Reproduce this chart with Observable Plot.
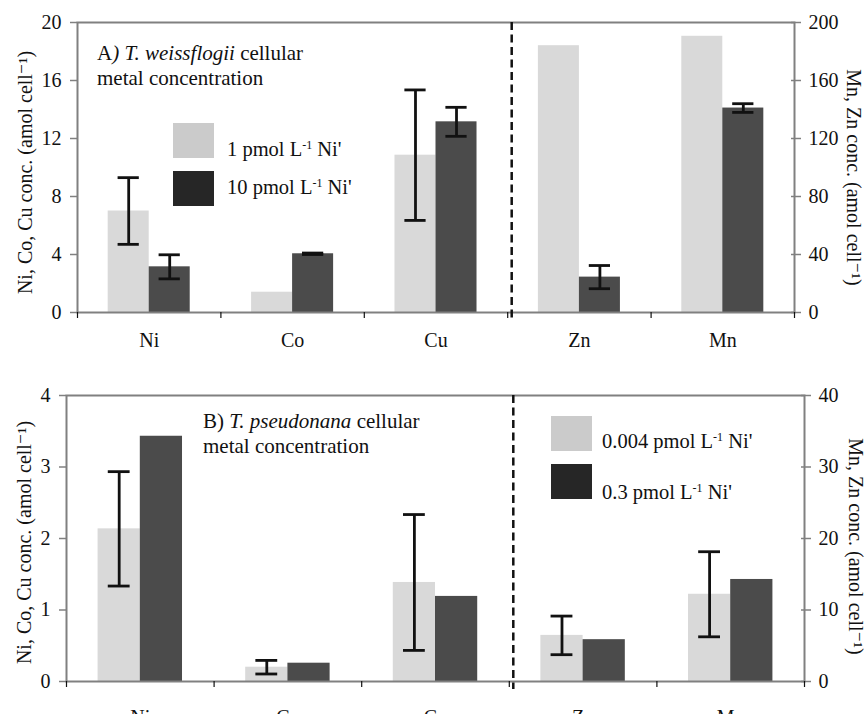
<!DOCTYPE html>
<html><head><meta charset="utf-8">
<script src="https://cdn.jsdelivr.net/npm/d3@7"></script>
<script src="https://cdn.jsdelivr.net/npm/@observablehq/plot@0.6"></script>
<style>
html,body{margin:0;padding:0;overflow:hidden;background:#fff;}
#wrap{position:relative;width:867px;height:714px;font-family:"Liberation Serif","Tinos","Times New Roman","Times","DejaVu Serif","Noto Serif",serif;color:#111;}
.panel{position:absolute;left:0;}
.note{position:absolute;font-size:21px;line-height:25px;white-space:nowrap;}
.legtxt{position:absolute;font-size:20.5px;line-height:20px;white-space:nowrap;}
.legtxt sup{font-size:12px;vertical-align:7px;line-height:0;}
.sw{position:absolute;width:41px;height:35px;}
</style></head><body><div id="wrap"></div>
<script>
// ---------- data ----------
const categories = ["Ni", "Co", "Cu", "Zn", "Mn"];
const rightGroup = ["Zn", "Mn"];          // read against the right-hand axis
const rightFactor = 10;                   // right axis = 10 x left axis
const series = ["low", "high"];

// Panel A: T. weissflogii
const aLow     = [7.0, 1.4, 10.85, 184, 190.5];
const aLowErr  = [2.3, null, 4.5, null, null];
const aHigh    = [3.15, 4.05, 13.15, 24.4, 141];
const aHighErr = [0.83, 0.05, 1.0, 8, 3];
const aLeftTicks  = [0, 4, 8, 12, 16, 20];
const aRightTicks = [0, 40, 80, 120, 160, 200];
const aLegend = ["1 pmol L<sup>-1</sup> Ni'", "10 pmol L<sup>-1</sup> Ni'"];
const aNote = ["A<i>) T. weissflogii</i> cellular", "metal concentration"];

// Panel B: T. pseudonana
const bLow     = [2.135, 0.20, 1.385, 6.45, 12.2];
const bLowErr  = [0.8, 0.095, 0.95, 2.7, 5.95];
const bHigh    = [3.43, 0.256, 1.19, 5.85, 14.27];
const bHighErr = [null, null, null, null, null];
const bLeftTicks  = [0, 1, 2, 3, 4];
const bRightTicks = [0, 10, 20, 30, 40];
const bLegend = ["0.004 pmol L<sup>-1</sup> Ni'", "0.3 pmol L<sup>-1</sup> Ni'"];
const bNote = ["B) <i>T. pseudonana</i> cellular", "metal concentration"];

const leftTitle = "Ni, Co, Cu conc. (amol cell\u207B\u00B9)";
const rightTitle = "Mn, Zn conc. (amol cell\u207B\u00B9)";

// ---------- styles ----------
const fontStack = "'Liberation Serif','Tinos','Times New Roman','Times','DejaVu Serif','Noto Serif',serif";
const barColors = ["#d9d9d9", "#4b4b4b"];
const legColors = ["#cbcbcb", "#262626"];
const grey = "#808080";
const ink = "#111";
const barW = 0.286;   // bar width as a fraction of a category slot
const capW = 0.074;   // half error-bar cap width (category units)

function buildRows(low, lowErr, high, highErr) {
  const out = [];
  categories.forEach((cat, i) => {
    const f = rightGroup.includes(cat) ? rightFactor : 1;
    [[low, lowErr], [high, highErr]].forEach(([v, e], k) => {
      out.push({cat, i, k, series: series[k], value: v[i] / f,
        err: e[i] == null ? null : e[i] / f,
        xc: i + 0.5 + (k === 0 ? -barW / 2 : barW / 2)});
    });
  });
  return out;
}

function panel(cfg) {
  const rows = buildRows(cfg.low, cfg.lowErr, cfg.high, cfg.highErr);
  const errs = rows.filter(d => d.err != null);
  const yMax = cfg.leftTicks[cfg.leftTicks.length - 1];
  const fs = 20;
  return Plot.plot({
    width: 867, height: cfg.height,
    marginTop: cfg.mt, marginBottom: cfg.mb, marginLeft: cfg.ml, marginRight: cfg.mr,
    style: {fontFamily: fontStack, fontSize: "20px", color: ink, background: "transparent", overflow: "visible"},
    x: {domain: [0, categories.length], label: null},
    y: {domain: [0, yMax], label: null},
    color: {domain: series, range: barColors},
    marks: [
      Plot.rectY(rows, {
        x1: d => d.i + 0.5 - (d.k === 0 ? barW : 0),
        x2: d => d.i + 0.5 + (d.k === 1 ? barW : 0),
        y1: 0, y2: "value", fill: "series"
      }),
      Plot.frame({stroke: grey, strokeWidth: 2}),
      // dashed separator between left-axis and right-axis metals
      Plot.ruleX([categories.length - rightGroup.length], {dx: 4, stroke: ink, strokeWidth: 2.5, strokeDasharray: "8,4.5", insetBottom: -8}),
      // error bars
      Plot.ruleX(errs, {x: "xc", y1: d => d.value - d.err, y2: d => d.value + d.err, stroke: ink, strokeWidth: 2.8}),
      Plot.ruleY(errs, {y: d => d.value - d.err, x1: d => d.xc - capW, x2: d => d.xc + capW, stroke: ink, strokeWidth: 2.8}),
      Plot.ruleY(errs, {y: d => d.value + d.err, x1: d => d.xc - capW, x2: d => d.xc + capW, stroke: ink, strokeWidth: 2.8}),
      // left axis
      Plot.axisY({anchor: "left", ticks: cfg.leftTicks, tickFormat: d => String(d), tickSize: 7, tickPadding: 9,
        stroke: grey, strokeWidth: 1.5, fill: ink, fontSize: fs, label: null}),
      // right axis (ticks cross the axis line)
      Plot.axisY({anchor: "right", ticks: cfg.rightTicks.map(t => t / rightFactor), tickFormat: d => String(Math.round(d * rightFactor)),
        tickSize: 6, tickPadding: 8, stroke: grey, strokeWidth: 1.5, fill: ink, fontSize: fs, label: null}),
      Plot.axisY({anchor: "right", ticks: cfg.rightTicks.map(t => t / rightFactor), tickSize: 4, dx: -4, stroke: grey, strokeWidth: 1.5, fill: "none", label: null}),
      // x axis: boundary ticks and centred category labels
      Plot.axisX({anchor: "bottom", ticks: d3.range(categories.length + 1), tickSize: 6, stroke: ink, strokeWidth: 1.2, fill: "none", label: null}),
      Plot.axisX({anchor: "bottom", ticks: categories.map((c, i) => i + 0.5), tickFormat: d => categories[Math.floor(d)],
        tickSize: 0, tickPadding: cfg.xPad, fill: ink, fontSize: fs, label: null}),
      // axis titles
      Plot.text([leftTitle], {text: d => d, frameAnchor: "left", textAnchor: "middle", lineAnchor: "middle", rotate: -90,
        dx: cfg.ltDx, dy: cfg.ltDy, fontSize: fs, fill: ink}),
      Plot.text([rightTitle], {text: d => d, frameAnchor: "right", textAnchor: "middle", lineAnchor: "middle", rotate: 90,
        dx: cfg.rtDx, dy: cfg.rtDy, fontSize: fs, fill: ink})
    ]
  });
}

const wrap = document.getElementById("wrap");

function place(el, top) {
  el.classList.add("panel");
  el.style.top = top + "px";
  wrap.appendChild(el);
}

place(panel({low: aLow, lowErr: aLowErr, high: aHigh, highErr: aHighErr,
  leftTicks: aLeftTicks, rightTicks: aRightTicks,
  height: 357, mt: 22, mb: 45, ml: 77, mr: 73, xPad: 20,
  ltDx: -52, ltDy: 5, rtDx: 59, rtDy: 10}), 0);

place(panel({low: bLow, lowErr: bLowErr, high: bHigh, highErr: bHighErr,
  leftTicks: bLeftTicks, rightTicks: bRightTicks,
  height: 380, mt: 38, mb: 56, ml: 66, mr: 63, xPad: 28,
  ltDx: -42, ltDy: 4, rtDx: 51, rtDy: 8}), 357);

function addNote(lines, left, top) {
  const d = document.createElement("div");
  d.className = "note";
  d.style.left = left + "px"; d.style.top = top + "px";
  d.innerHTML = lines.join("<br>");
  wrap.appendChild(d);
}
function addLegend(labels, swLeft, swTops, txtLeft, txtTops) {
  labels.forEach((lab, k) => {
    const s = document.createElement("div");
    s.className = "sw";
    s.style.left = swLeft + "px"; s.style.top = swTops[k] + "px";
    s.style.background = legColors[k];
    wrap.appendChild(s);
    const t = document.createElement("div");
    t.className = "legtxt";
    t.style.left = txtLeft + "px"; t.style.top = txtTops[k] + "px";
    t.innerHTML = lab;
    wrap.appendChild(t);
  });
}

addNote(aNote, 97, 41);
addNote(bNote, 203, 409);
addLegend(aLegend, 173, [122.5, 170.5], 227, [139, 176.5]);
addLegend(bLegend, 551, [416, 464], 602, [430.5, 481.5]);
</script>
</body></html>
